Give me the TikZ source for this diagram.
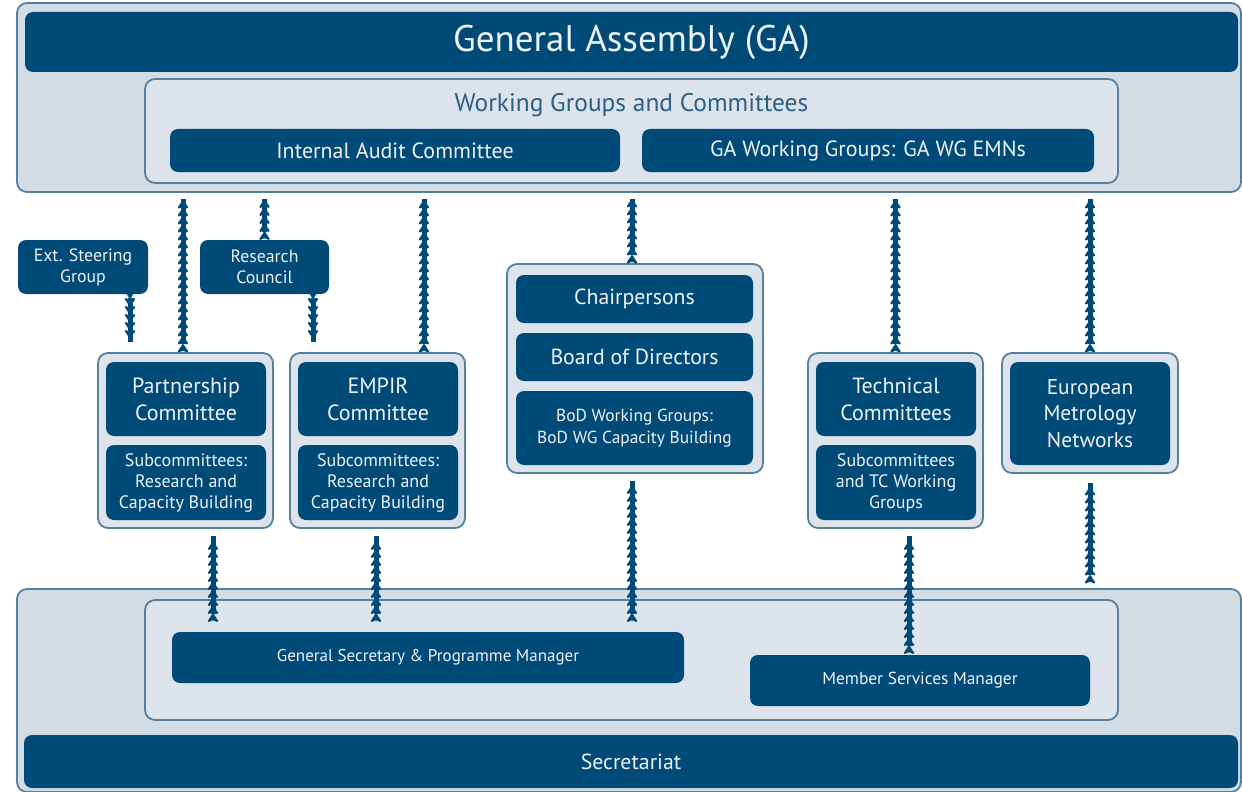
\documentclass[tikz,border=0pt]{standalone}
\usepackage{fontspec}
\setmainfont{PT Sans}
\usetikzlibrary{arrows.meta, decorations.markings}

\definecolor{ganavy}{HTML}{004A77}
\definecolor{paleouter}{HTML}{D2DCE5}
\definecolor{paleinner}{HTML}{DDE3EB}
\definecolor{edgeblue}{HTML}{5580A0}
\definecolor{boxtext}{HTML}{EEF2F6}
\definecolor{titleblue}{HTML}{2A5F88}

\tikzset{
  panel/.style={draw=edgeblue, fill=paleouter, line width=0.9pt, rounded corners=5pt, inner sep=0pt},
  subpanel/.style={panel, fill=paleinner},
  darkbox/.style={fill=ganavy, text=boxtext, rounded corners=4pt, inner sep=0pt, align=center},
  linkchain/.style={ganavy, line width=2.5pt, postaction={decorate},
    decoration={markings, mark=between positions 0 and 1 step 4pt with
      {\arrow{Stealth[length=5pt, width=6.5pt, inset=1.3pt, fill=ganavy, round]}}}},
}

\begin{document}
\begin{tikzpicture}[x=0.5pt, y=-0.5pt]
    \useasboundingbox (0,0) rectangle (1242,792);

    % general assembly and its committees
    \node[panel, minimum width=612pt, minimum height=94.5pt] (top) at (629,97.5) {};
    \node[darkbox, minimum width=606.5pt, minimum height=30pt, font=\fontsize{18.5}{22}\selectfont] (ga) at (631.5,42) {General Assembly (GA)};
    \node[subpanel, minimum width=486.5pt, minimum height=52pt] (wg) at (631.5,131) {};
    \node[text=titleblue, font=\fontsize{12.7}{15}\selectfont] (wgtitle) at (631.5,105) {Working Groups and Committees};
    \node[darkbox, minimum width=225pt, minimum height=21.5pt, font=\fontsize{11}{13}\selectfont] (iac) at (395,150.5) {Internal Audit Committee};
    \node[darkbox, minimum width=226pt, minimum height=21.5pt, font=\fontsize{11}{13}\selectfont] (gawg) at (868,150.5) {GA Working Groups: GA WG EMNs};

    % advisory boxes
    \node[darkbox, minimum width=65pt, minimum height=27pt, font=\fontsize{8.9}{10.5}\selectfont] (esg) at (83,267) {Ext. Steering\\Group};
    \node[darkbox, minimum width=64.5pt, minimum height=27pt, font=\fontsize{8.9}{10.5}\selectfont] (rc) at (264.5,267) {Research\\Council};

    % committee groups
    \node[subpanel, minimum width=87.5pt, minimum height=87.5pt] (pgrp) at (185.5,440.5) {};
    \node[darkbox, minimum width=80pt, minimum height=37pt, font=\fontsize{11}{13.5}\selectfont] (pc) at (186,399) {Partnership\\Committee};
    \node[darkbox, minimum width=80pt, minimum height=37.5pt, font=\fontsize{9}{10.5}\selectfont] (psub) at (186,482.5) {Subcommittees:\\Research and\\Capacity Building};

    \node[subpanel, minimum width=87.5pt, minimum height=87.5pt] (egrp) at (377.5,440.5) {};
    \node[darkbox, minimum width=80pt, minimum height=37pt, font=\fontsize{11}{13.5}\selectfont] (ec) at (378,399) {EMPIR\\Committee};
    \node[darkbox, minimum width=80pt, minimum height=37.5pt, font=\fontsize{9}{10.5}\selectfont] (esub) at (378,482.5) {Subcommittees:\\Research and\\Capacity Building};

    \node[subpanel, minimum width=128pt, minimum height=104.5pt] (cgrp) at (635,368.5) {};
    \node[darkbox, minimum width=118.5pt, minimum height=24pt, font=\fontsize{10.9}{13}\selectfont] (chair) at (634.5,299) {Chairpersons};
    \node[darkbox, minimum width=118.5pt, minimum height=24pt, font=\fontsize{10.9}{13}\selectfont] (bod) at (634.5,357) {Board of Directors};
    \node[darkbox, minimum width=118.5pt, minimum height=37pt, font=\fontsize{8.7}{11}\selectfont] (bodwg) at (634.5,428) {BoD Working Groups:\\BoD WG Capacity Building};

    \node[subpanel, minimum width=87.5pt, minimum height=87.5pt] (tgrp) at (895.5,440.5) {};
    \node[darkbox, minimum width=80pt, minimum height=37pt, font=\fontsize{11}{13.5}\selectfont] (tc) at (896,399) {Technical\\Committees};
    \node[darkbox, minimum width=80pt, minimum height=37.5pt, font=\fontsize{9}{10.5}\selectfont] (tsub) at (896,482.5) {Subcommittees\\and TC Working\\Groups};

    \node[subpanel, minimum width=88pt, minimum height=60pt] (mgrp) at (1090,413) {};
    \node[darkbox, minimum width=80pt, minimum height=51.5pt, font=\fontsize{10.7}{13.3}\selectfont] (emn) at (1090,413.5) {European\\Metrology\\Networks};

    % secretariat
    \node[panel, minimum width=612pt, minimum height=101.5pt] (bot) at (629,690.5) {};
    \node[subpanel, minimum width=486.5pt, minimum height=60pt] (secbox) at (631.5,660) {};
    \node[darkbox, minimum width=256pt, minimum height=25.5pt, font=\fontsize{8.5}{10}\selectfont] (gsm) at (428,657.5) {General Secretary \& Programme Manager};
    \node[darkbox, minimum width=170pt, minimum height=25.5pt, font=\fontsize{8.7}{10}\selectfont] (msm) at (920,680.5) {Member Services Manager};
    \node[darkbox, minimum width=607pt, minimum height=26.5pt, font=\fontsize{10.9}{13}\selectfont] (secr) at (631,761.5) {Secretariat};

    % links up to the general assembly
    \draw[linkchain] ([xshift=-1.25pt, yshift=4pt]pgrp.north) -- ([xshift=-1.25pt, yshift=-3pt]pgrp.north |- top.south);
    \draw[linkchain] ([yshift=4pt]rc.north) -- ([yshift=-3pt]rc.north |- top.south);
    \draw[linkchain] ([xshift=23.25pt, yshift=4pt]egrp.north) -- ([xshift=23.25pt, yshift=-3pt]egrp.north |- top.south);
    \draw[linkchain] ([xshift=-1.5pt, yshift=4pt]cgrp.north) -- ([xshift=-1.5pt, yshift=-3pt]cgrp.north |- top.south);
    \draw[linkchain] ([yshift=4pt]tgrp.north) -- ([yshift=-3pt]tgrp.north |- top.south);
    \draw[linkchain] ([yshift=4pt]mgrp.north) -- ([yshift=-3pt]mgrp.north |- top.south);

    % links down to the committees
    \draw[linkchain] ([xshift=23.5pt, yshift=-2pt]esg.south) -- ([xshift=23.5pt, yshift=5pt]esg.south |- pgrp.north);
    \draw[linkchain] ([xshift=24.25pt, yshift=-2pt]rc.south) -- ([xshift=24.25pt, yshift=5pt]rc.south |- egrp.north);

    % links up from the secretariat
    \draw[linkchain] ([xshift=13.75pt, yshift=9pt]pgrp.south |- gsm.north) -- ([xshift=13.75pt, yshift=-3.5pt]pgrp.south);
    \draw[linkchain] ([xshift=-0.75pt, yshift=9pt]egrp.south |- gsm.north) -- ([xshift=-0.75pt, yshift=-3.5pt]egrp.south);
    \draw[linkchain] ([xshift=-1.5pt, yshift=9pt]cgrp.south |- gsm.north) -- ([xshift=-1.5pt, yshift=-3.5pt]cgrp.south);
    \draw[linkchain] ([xshift=6.75pt, yshift=4.5pt]tgrp.south |- msm.north) -- ([xshift=6.75pt, yshift=-3.5pt]tgrp.south);
    \draw[linkchain] ([yshift=6.5pt]mgrp.south |- bot.north) -- ([yshift=-4.5pt]mgrp.south);

\end{tikzpicture}
\end{document}
